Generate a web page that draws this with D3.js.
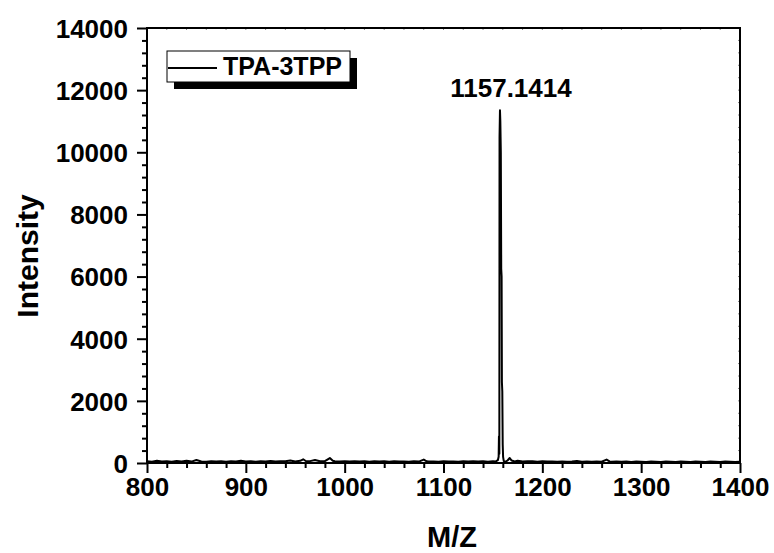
<!DOCTYPE html>
<html>
<head>
<meta charset="utf-8">
<script src="https://cdn.jsdelivr.net/npm/d3@7"></script>
<style>
  body { margin: 0; background: #fff; }
  text { font-family: "Liberation Sans", Arial, sans-serif; font-weight: bold; fill: #000; }
</style>
</head>
<body>
<div id="chart"></div>
<script>
const W = 774, H = 553;
const MARGIN = { left: 147, right: 34, top: 28, bottom: 90 };

// m/z positions and intensities
const mz = [
  800, 805, 810, 815, 820, 825, 830, 835, 840, 845, 850, 855, 860, 865, 870, 875, 880, 885, 890, 895,
  900, 905, 910, 915, 920, 925, 930, 935, 940, 945, 950, 955, 958, 961, 965, 970, 975, 980, 985, 988,
  990, 995, 1000, 1005, 1010, 1015, 1020, 1025, 1030, 1035, 1040, 1045, 1050, 1055, 1060, 1065, 1070, 1075, 1080, 1083,
  1085, 1090, 1095, 1100, 1105, 1110, 1115, 1120, 1125, 1130, 1135, 1140, 1145, 1150, 1153, 1155, 1155.8, 1156.1, 1156.5, 1156.7,
  1157.14, 1157.5, 1158.0, 1158.4, 1158.8, 1159.1, 1159.5, 1159.9, 1160.3, 1161, 1163, 1165, 1167, 1169, 1172, 1175, 1180, 1185, 1190, 1195, 1200,
  1205, 1210, 1215, 1220, 1225, 1230, 1235, 1240, 1245, 1250, 1255, 1260, 1265, 1268, 1270, 1275, 1280, 1285, 1290, 1295,
  1300, 1305, 1310, 1315, 1320, 1325, 1330, 1335, 1340, 1345, 1350, 1355, 1360, 1365, 1370, 1375, 1380, 1385, 1390, 1395, 1400
];
const intensity = [
  60, 40, 70, 45, 55, 40, 65, 50, 75, 45, 95, 50, 40, 60, 45, 55, 40, 60, 50, 70,
  45, 60, 40, 55, 50, 65, 45, 60, 55, 80, 50, 70, 120, 55, 60, 95, 55, 60, 160, 70,
  55, 50, 60, 45, 55, 50, 60, 40, 55, 45, 60, 40, 55, 45, 50, 40, 55, 45, 110, 55,
  45, 50, 40, 55, 45, 50, 40, 55, 45, 60, 45, 55, 40, 60, 50, 90, 200, 850, 300, 10500,
  11350, 11000, 10000, 6250, 6000, 2600, 2300, 600, 200, 60, 40, 90, 160, 80, 50, 70, 45, 55, 60, 40, 55,
  45, 50, 40, 45, 40, 50, 65, 40, 45, 40, 45, 40, 110, 50, 40, 45, 40, 45, 35, 45,
  40, 35, 45, 40, 35, 45, 40, 35, 45, 40, 35, 45, 40, 35, 45, 40, 35, 45, 40, 35, 40
];
const xMajor = [800, 900, 1000, 1100, 1200, 1300, 1400];
const yMajor = [0, 2000, 4000, 6000, 8000, 10000, 12000, 14000];
const peakLabel = { mz: 1157.1414, text: "1157.1414" };
const seriesName = "TPA-3TPP";

const svg = d3.select("#chart").append("svg")
  .attr("width", W).attr("height", H)
  .style("background", "#fff");

const x = d3.scaleLinear().domain([800, 1400]).range([MARGIN.left, W - MARGIN.right]);
const y = d3.scaleLinear().domain([0, 14000]).range([H - MARGIN.bottom, MARGIN.top]);

const xMinor = d3.range(800, 1401, 20).filter(v => !xMajor.includes(v));
const yMinor = d3.range(0, 14001, 400).filter(v => !yMajor.includes(v));

// spectrum
const pts = mz.map((m, i) => ({ m: m, v: intensity[i] }));
const line = d3.line().x(d => x(d.m)).y(d => y(d.v));
svg.append("path")
  .datum(pts)
  .attr("d", line)
  .attr("fill", "none")
  .attr("stroke", "#000")
  .attr("stroke-width", 2)
  .attr("stroke-linejoin", "round");

// top / right tiny inward ticks
svg.append("g").selectAll("line").data(d3.range(800, 1401, 20)).enter().append("line")
  .attr("x1", d => x(d)).attr("x2", d => x(d))
  .attr("y1", MARGIN.top).attr("y2", MARGIN.top + 2)
  .attr("stroke", "#888").attr("stroke-width", 1);
svg.append("g").selectAll("line").data(d3.range(0, 14001, 400)).enter().append("line")
  .attr("x1", W - MARGIN.right).attr("x2", W - MARGIN.right - 2)
  .attr("y1", d => y(d)).attr("y2", d => y(d))
  .attr("stroke", "#888").attr("stroke-width", 1);

// frame
svg.append("rect")
  .attr("x", MARGIN.left).attr("y", MARGIN.top)
  .attr("width", W - MARGIN.left - MARGIN.right)
  .attr("height", H - MARGIN.top - MARGIN.bottom)
  .attr("fill", "none").attr("stroke", "#000").attr("stroke-width", 2);

// axes
const xAxis = svg.append("g")
  .attr("transform", `translate(0,${H - MARGIN.bottom})`)
  .call(d3.axisBottom(x).tickValues(xMajor).tickSize(10).tickPadding(5).tickFormat(d3.format("d")));
const xMinorG = svg.append("g")
  .attr("transform", `translate(0,${H - MARGIN.bottom})`)
  .call(d3.axisBottom(x).tickValues(xMinor).tickSize(5).tickFormat(""));
const yAxis = svg.append("g")
  .attr("transform", `translate(${MARGIN.left},0)`)
  .call(d3.axisLeft(y).tickValues(yMajor).tickSize(10).tickPadding(9).tickFormat(d3.format("d")));
const yMinorG = svg.append("g")
  .attr("transform", `translate(${MARGIN.left},0)`)
  .call(d3.axisLeft(y).tickValues(yMinor).tickSize(5).tickFormat(""));

[xAxis, xMinorG, yAxis, yMinorG].forEach(g => {
  g.select(".domain").remove();
  g.selectAll(".tick line").attr("stroke", "#000").attr("stroke-width", 2);
  g.selectAll("text").style("font-size", "26px").style("font-family", "'Liberation Sans', Arial, sans-serif")
    .style("font-weight", "bold").attr("fill", "#000");
});
yAxis.selectAll("text").attr("dy", "0.36em");

// axis titles
svg.append("text")
  .attr("x", 452).attr("y", 547)
  .attr("text-anchor", "middle")
  .style("font-size", "29px")
  .text("M/Z");
svg.append("text")
  .attr("transform", `translate(38,256) rotate(-90)`)
  .attr("text-anchor", "middle")
  .style("font-size", "30px")
  .text("Intensity");

// peak label
svg.append("text")
  .attr("x", x(peakLabel.mz) + 11).attr("y", 97)
  .attr("text-anchor", "middle")
  .style("font-size", "26px")
  .text(peakLabel.text);

// legend with drop shadow
const lg = svg.append("g");
lg.append("rect").attr("x", 174).attr("y", 58).attr("width", 183).attr("height", 31).attr("fill", "#000");
lg.append("rect").attr("x", 167).attr("y", 51).attr("width", 183).attr("height", 31)
  .attr("fill", "#fff").attr("stroke", "#000").attr("stroke-width", 1);
lg.append("line").attr("x1", 168).attr("x2", 217).attr("y1", 68).attr("y2", 68)
  .attr("stroke", "#000").attr("stroke-width", 2);
lg.append("text").attr("x", 223).attr("y", 75).style("font-size", "25px").text(seriesName);
</script>
</body>
</html>
